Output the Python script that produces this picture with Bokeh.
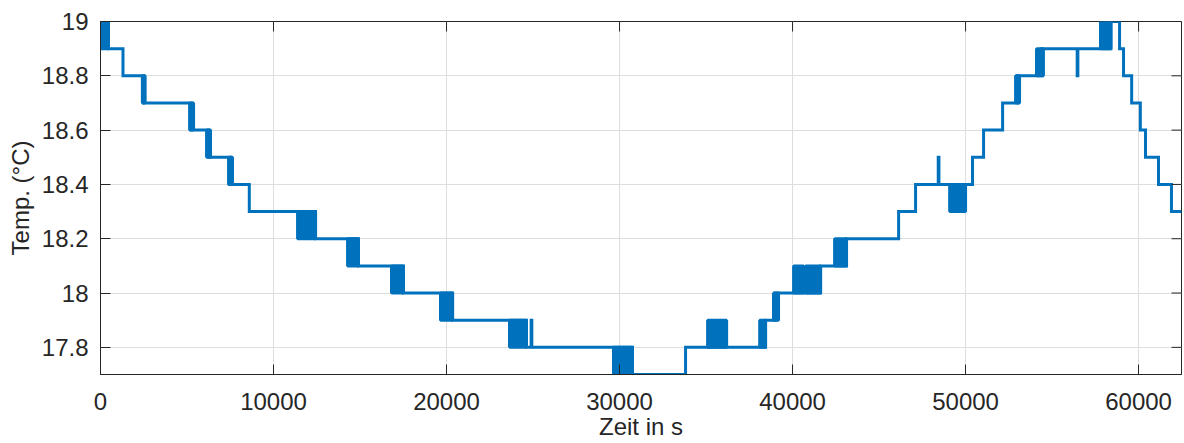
import math
from bokeh.plotting import figure
from bokeh.models import FixedTicker, Range1d, ColumnDataSource
from bokeh.embed import file_html
from bokeh.resources import INLINE

# Step changes of the measured temperature (time in s, level after that time in °C)
time_s = [0, 460, 1300, 2500, 5250, 6250, 7500, 8600, 12430, 14910, 17510, 20350,
          24620, 24890, 24930, 30750, 33815, 38440, 39000, 41620, 43120, 46130,
          47110, 48420, 48460, 50400, 51040, 52140, 53000, 54400, 56450, 56490,
          58400, 58900, 59130, 59600, 60100, 60400, 61150, 61900, 62480]
temp_c = [19.0, 18.9, 18.8, 18.7, 18.6, 18.5, 18.4, 18.3, 18.2, 18.1, 18.0, 17.9,
          17.8, 17.9, 17.8, 17.7, 17.8, 17.9, 18.0, 18.1, 18.2, 18.3,
          18.4, 18.5, 18.4, 18.5, 18.6, 18.7, 18.8, 18.9, 18.8, 18.9,
          19.0, 18.9, 18.8, 18.7, 18.6, 18.5, 18.4, 18.3, 18.3]

# Intervals where the sensor toggles rapidly between two adjacent levels
band_start = [0, 2420, 5150, 6130, 7400, 11390, 14280, 16820, 19650, 23640, 29650,
              35090, 38100, 38900, 40060, 40750, 42430, 49080, 52890, 54100, 57800]
band_end = [460, 2580, 5380, 6360, 7630, 12430, 14910, 17510, 20350, 24620, 30750,
            36190, 38440, 39190, 40640, 41620, 43120, 50000, 53120, 54500, 58400]
band_low = [18.9, 18.7, 18.6, 18.5, 18.4, 18.2, 18.1, 18.0, 17.9, 17.8, 17.7,
            17.8, 17.8, 17.9, 18.0, 18.0, 18.1, 18.3, 18.7, 18.8, 18.9]
band_high = [19.0, 18.8, 18.7, 18.6, 18.5, 18.3, 18.2, 18.1, 18.0, 17.9, 17.8,
             17.9, 17.9, 18.0, 18.1, 18.1, 18.2, 18.4, 18.8, 18.9, 19.0]

x_ticks = [0, 10000, 20000, 30000, 40000, 50000, 60000]
y_ticks = [17.8, 18.0, 18.2, 18.4, 18.6, 18.8, 19.0]
x_lim = (0, 62480)
y_lim = (17.7, 19.0)

FONT = "Liberation Sans"
TXT = "#262626"
BLUE = "#0072BD"
FS = "24px"

p = figure(width=1184, height=443, output_backend="svg", toolbar_location=None,
           x_range=Range1d(*x_lim), y_range=Range1d(*y_lim),
           min_border_left=100, min_border_right=3, min_border_top=21,
           min_border_bottom=69)
p.background_fill_color = "white"
p.border_fill_color = "white"
p.outline_line_color = TXT
p.outline_line_width = 1

p.xgrid.ticker = FixedTicker(ticks=x_ticks)
p.ygrid.ticker = FixedTicker(ticks=y_ticks)
p.grid.grid_line_color = "#dedede"
p.grid.grid_line_width = 1

line_src = ColumnDataSource(dict(t=time_s, v=temp_c))
band_src = ColumnDataSource(dict(l=band_start, r=band_end, b=band_low, h=band_high))

p.quad(left="l", right="r", bottom="b", top="h", source=band_src,
       fill_color=BLUE, line_color=BLUE, line_width=3)
p.step(x="t", y="v", source=line_src, mode="after", line_color=BLUE,
       line_width=3, line_join="miter")

# inward ticks on the top and right edges of the box (outer half clipped by the frame)
p.scatter(x=x_ticks, y=[y_lim[1]] * len(x_ticks), marker="dash", size=20,
          angle=math.pi / 2, line_color=TXT, line_width=1)
p.scatter(x=[x_lim[1]] * len(y_ticks), y=y_ticks, marker="dash", size=20,
          angle=0, line_color=TXT, line_width=1)

for ax in (p.xaxis[0], p.yaxis[0]):
    ax.axis_line_color = TXT
    ax.major_tick_line_color = TXT
    ax.major_tick_in = 10
    ax.major_tick_out = 0
    ax.minor_tick_line_color = None
    ax.major_label_text_font = FONT
    ax.major_label_text_font_size = FS
    ax.major_label_text_color = TXT
    ax.axis_label_text_font = FONT
    ax.axis_label_text_font_size = FS
    ax.axis_label_text_font_style = "normal"
    ax.axis_label_text_color = TXT

p.xaxis.ticker = FixedTicker(ticks=x_ticks)
p.yaxis.ticker = FixedTicker(ticks=y_ticks)
p.yaxis.major_label_overrides = {t: f"{t:g}" for t in y_ticks}
p.xaxis.axis_label = "Zeit in s"
p.yaxis.axis_label = "Temp. (°C)"
p.xaxis.major_label_standoff = 18
p.yaxis.major_label_standoff = 12
p.xaxis.axis_label_standoff = 0
p.yaxis.axis_label_standoff = 5

open("out.html", "w").write(file_html(p, INLINE))
